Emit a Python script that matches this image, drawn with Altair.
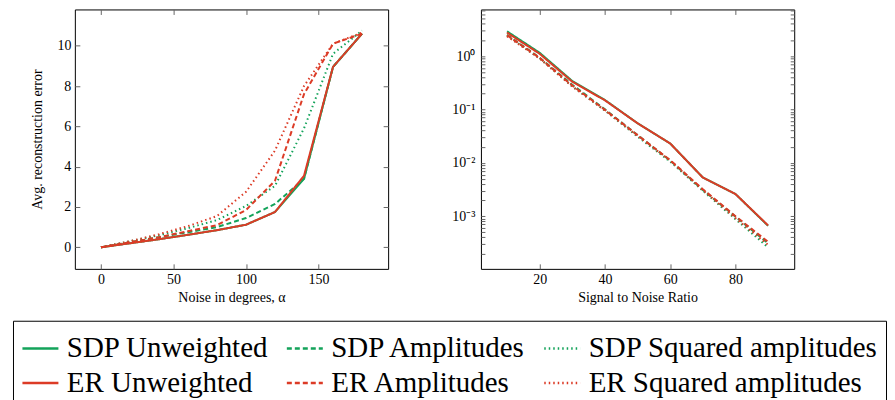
import altair as alt
import pandas as pd

# ---------------- data ----------------
series_names = [
    "SDP Unweighted", "ER Unweighted",
    "SDP Amplitudes", "ER Amplitudes",
    "SDP Squared amplitudes", "ER Squared amplitudes",
]
series_colors = ["#13a35a", "#dc3b26", "#13a35a", "#dc3b26", "#13a35a", "#dc3b26"]
series_dashes = [[1, 0], [1, 0], [5, 3], [5, 3], [1.5, 3], [1.5, 3]]

# left panel: noise in degrees
noise_deg = [0, 20, 40, 60, 80, 100, 120, 140, 160, 180]
left_sdp_unw = [0, 0.2, 0.4, 0.62, 0.85, 1.12, 1.75, 3.4, 8.95, 10.6]
left_sdp_amp = [0, 0.25, 0.5, 0.75, 1.0, 1.45, 2.15, 3.4, 8.95, 10.6]
left_sdp_sq = [0, 0.3, 0.6, 0.95, 1.35, 2.05, 3.05, 5.9, 9.6, 10.75]
left_er_unw = [0, 0.2, 0.4, 0.62, 0.85, 1.12, 1.75, 3.55, 8.95, 10.6]
left_er_amp = [0, 0.25, 0.5, 0.8, 1.1, 1.85, 3.3, 7.6, 10.1, 10.6]
left_er_sq = [0, 0.3, 0.65, 1.05, 1.55, 2.75, 4.8, 8.0, 10.1, 10.65]

# right panel: signal to noise ratio
snr = [10, 20, 30, 40, 50, 60, 70, 80, 90]
right_sdp_unw = [2.9, 1.15, 0.34, 0.15, 0.055, 0.023, 0.0053, 0.0026, 0.00066]
right_sdp_amp = [2.5, 0.93, 0.29, 0.1, 0.033, 0.011, 0.0031, 0.00098, 0.00031]
right_sdp_sq = [2.4, 0.9, 0.27, 0.095, 0.031, 0.0105, 0.003, 0.00088, 0.00026]
right_er_unw = [2.75, 1.1, 0.33, 0.148, 0.055, 0.023, 0.0053, 0.0026, 0.00067]
right_er_amp = [2.45, 0.92, 0.28, 0.098, 0.033, 0.0112, 0.0032, 0.001, 0.00033]
right_er_sq = [2.35, 0.9, 0.27, 0.096, 0.032, 0.011, 0.0031, 0.00092, 0.00029]

left_x_domain = [-18, 198]
left_y_domain = [-1.07, 11.8]
right_x_domain = [2, 98]
right_y_domain = [1.03e-4, 7.46]

left_ticks_x = [0, 50, 100, 150]
left_ticks_y = [0, 2, 4, 6, 8, 10]
right_ticks_x = [20, 40, 60, 80]
right_ticks_y = [m * 10.0 ** d for d in range(-4, 1) for m in range(1, 10)
                 if right_y_domain[0] <= m * 10.0 ** d <= right_y_domain[1]]


def long_table(xs, named):
    rows = []
    for name, ys in named:
        for x, y in zip(xs, ys):
            rows.append({"x": x, "y": y, "series": name})
    return pd.DataFrame(rows)


left_df = long_table(noise_deg, [
    ("SDP Unweighted", left_sdp_unw), ("SDP Amplitudes", left_sdp_amp),
    ("SDP Squared amplitudes", left_sdp_sq), ("ER Unweighted", left_er_unw),
    ("ER Amplitudes", left_er_amp), ("ER Squared amplitudes", left_er_sq)])
right_df = long_table(snr, [
    ("SDP Unweighted", right_sdp_unw), ("SDP Amplitudes", right_sdp_amp),
    ("SDP Squared amplitudes", right_sdp_sq), ("ER Unweighted", right_er_unw),
    ("ER Amplitudes", right_er_amp), ("ER Squared amplitudes", right_er_sq)])

FONT = "Liberation Serif"
W, H = 314, 260
TS = 5

legend = alt.Legend(
    title=None, orient="none", legendX=-62, legendY=312,
    columns=3, symbolType="stroke", symbolSize=1300, symbolStrokeWidth=2.5,
    labelFont=FONT, labelFontSize=29, labelColor="black", labelOffset=7,
    labelLimit=500, columnPadding=12, rowPadding=-3, padding=8,
    strokeColor="black",
)
color = alt.Color("series:N", scale=alt.Scale(domain=series_names, range=series_colors), legend=legend)
dash = alt.StrokeDash("series:N", scale=alt.Scale(domain=series_names, range=series_dashes), legend=legend)

MAJOR = "abs(log(datum.value)/LN10 - round(log(datum.value)/LN10)) < 1e-6"


def panel(df, xdom, ydom, xticks, yticks, xtitle, ytitle, ylog=False):
    ys = alt.Scale(domain=ydom, type="log", nice=False) if ylog else alt.Scale(domain=ydom, nice=False, zero=False)
    xs = alt.Scale(domain=xdom, nice=False, zero=False)
    if ylog:
        lab = (MAJOR + " ? "
               "'10' + (round(log(datum.value)/LN10) == 0 ? '⁰' : round(log(datum.value)/LN10) == -1 ? '⁻¹' : "
               "round(log(datum.value)/LN10) == -2 ? '⁻²' : round(log(datum.value)/LN10) == -3 ? '⁻³' : '⁻⁴') : ''")
        yaxis = alt.Axis(values=yticks, labelExpr=lab, tickSize=4, offset=-4, labelPadding=6,
                         labelFontSize={"condition": {"test": MAJOR, "value": 14}, "value": 0},
                         labelOverlap=False, title=ytitle, orient="left", minExtent=0)
        yaxis2 = alt.Axis(values=yticks, labels=False, tickSize=4, offset=-4, title=None, orient="right",
                          minExtent=0)
    else:
        yaxis = alt.Axis(values=yticks, tickSize=TS, offset=-TS, labelPadding=4, title=ytitle,
                         titlePadding=12, orient="left", minExtent=0)
        yaxis2 = alt.Axis(values=yticks, labels=False, tickSize=TS, offset=-TS, title=None, orient="right",
                          minExtent=0)
    xaxis = alt.Axis(values=xticks, tickSize=TS, offset=-TS, labelPadding=4, title=xtitle,
                     titlePadding=4, orient="bottom", minExtent=0)
    xaxis2 = alt.Axis(values=xticks, labels=False, tickSize=TS, offset=-TS, title=None, orient="top",
                      minExtent=0)

    lines = alt.Chart(df).mark_line(strokeWidth=2).encode(
        x=alt.X("x:Q", scale=xs, axis=xaxis),
        y=alt.Y("y:Q", scale=ys, axis=yaxis),
        color=color,
        strokeDash=dash,
        detail="series:N",
    )
    frame = alt.Chart(df).mark_point(opacity=0).encode(
        x=alt.X("x:Q", scale=xs, axis=xaxis2),
        y=alt.Y("y:Q", scale=ys, axis=yaxis2),
    )
    return alt.layer(lines, frame).resolve_scale(x="independent", y="independent").properties(width=W, height=H)


left = panel(left_df, left_x_domain, left_y_domain, left_ticks_x, left_ticks_y,
             "Noise in degrees, α", "Avg. reconstruction error")
right = panel(right_df, right_x_domain, right_y_domain, right_ticks_x, right_ticks_y,
              "Signal to Noise Ratio", None, ylog=True)

chart = alt.hconcat(left, right, spacing=62).resolve_legend(color="shared", strokeDash="shared").properties(
    padding={"left": 4, "top": 0, "right": 0, "bottom": 0}
).configure(background="white").configure_view(stroke="black", strokeWidth=1).configure_axis(
    domain=False, grid=False, labelFont=FONT, titleFont=FONT, labelFontSize=14, titleFontSize=14,
    titleFontWeight="normal", labelColor="black", titleColor="black", tickColor="#666",
)

chart.save("out.html", embed_options={"renderer": "svg", "actions": False})
